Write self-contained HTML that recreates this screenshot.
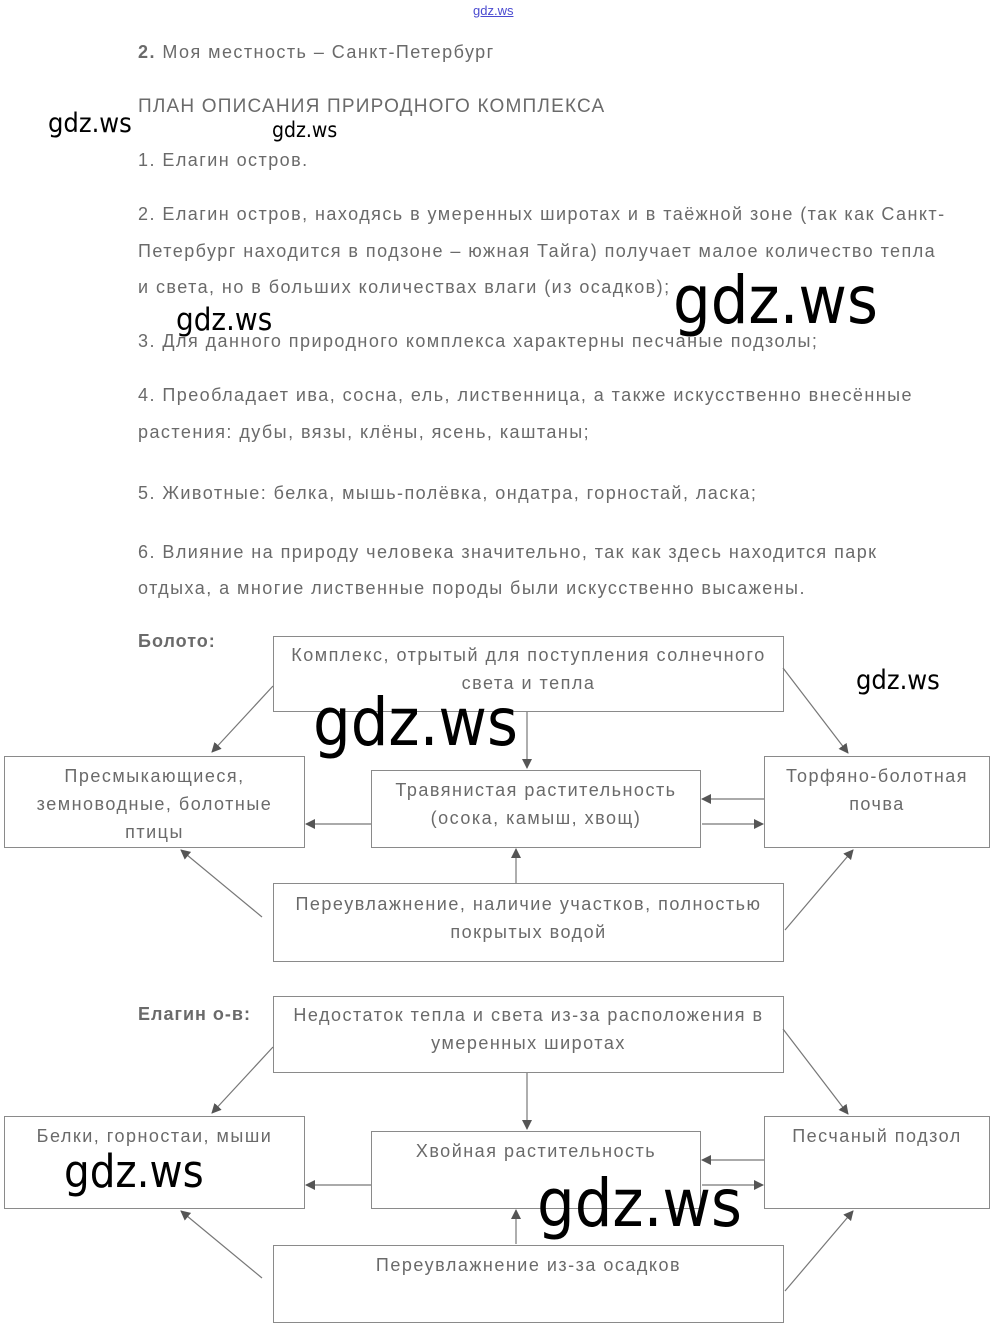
<!DOCTYPE html>
<html><head><meta charset="utf-8">
<style>
body{margin:0;width:1000px;height:1331px;background:#fff;position:relative;overflow:hidden;font-family:"Liberation Sans","DejaVu Sans",sans-serif;}
.t{position:absolute;color:#6a6a6a;font-size:18px;white-space:nowrap;letter-spacing:1.45px}
.b{position:absolute;border:1.5px solid #8a8a8a;box-sizing:border-box;color:#6a6a6a;font-size:18px;text-align:center;line-height:28px;letter-spacing:1.5px;white-space:nowrap}
.w{position:absolute;color:#000;white-space:nowrap;font-family:"DejaVu Sans Condensed","Liberation Sans Narrow","Liberation Sans",sans-serif;}
svg{position:absolute;left:0;top:0}
</style></head><body>
<div class="t" style="left:473px;top:3px;font-size:13px;color:#4a4ad0;text-decoration:underline;letter-spacing:0">gdz.ws</div>
<div class="t" style="left:138px;top:42px"><b>2.</b> Моя местность – Санкт-Петербург</div>
<div class="t" style="left:138px;top:96px;font-size:19px;letter-spacing:1.2px">ПЛАН ОПИСАНИЯ ПРИРОДНОГО КОМПЛЕКСА</div>
<div class="t" style="left:138px;top:150px">1. Елагин остров.</div>
<div class="t" style="left:138px;top:204px">2. Елагин остров, находясь в умеренных широтах и в таёжной зоне (так как Санкт-</div>
<div class="t" style="left:138px;top:241px">Петербург находится в подзоне – южная Тайга) получает малое количество тепла</div>
<div class="t" style="left:138px;top:277px">и света, но в больших количествах влаги (из осадков);</div>
<div class="t" style="left:138px;top:331px">3. Для данного природного комплекса характерны песчаные подзолы;</div>
<div class="t" style="left:138px;top:385px">4. Преобладает ива, сосна, ель, лиственница, а также искусственно внесённые</div>
<div class="t" style="left:138px;top:422px">растения: дубы, вязы, клёны, ясень, каштаны;</div>
<div class="t" style="left:138px;top:483px">5. Животные: белка, мышь-полёвка, ондатра, горностай, ласка;</div>
<div class="t" style="left:138px;top:542px">6. Влияние на природу человека значительно, так как здесь находится парк</div>
<div class="t" style="left:138px;top:578px">отдыха, а многие лиственные породы были искусственно высажены.</div>

<div class="t" style="left:138px;top:631px;font-weight:bold;letter-spacing:1px">Болото:</div>
<div class="b" style="left:273px;top:636px;width:511px;height:76px;padding-top:4px">Комплекс, отрытый для поступления солнечного<br>света и тепла</div>
<div class="b" style="left:4px;top:756px;width:301px;height:92px;padding-top:5px">Пресмыкающиеся,<br>земноводные, болотные<br>птицы</div>
<div class="b" style="left:371px;top:770px;width:330px;height:78px;padding-top:5px">Травянистая растительность<br>(осока, камыш, хвощ)</div>
<div class="b" style="left:764px;top:756px;width:226px;height:92px;padding-top:5px">Торфяно-болотная<br>почва</div>
<div class="b" style="left:273px;top:883px;width:511px;height:79px;padding-top:6px">Переувлажнение, наличие участков, полностью<br>покрытых водой</div>

<div class="t" style="left:138px;top:1004px;font-weight:bold;letter-spacing:1px">Елагин о-в:</div>
<div class="b" style="left:273px;top:996px;width:511px;height:77px;padding-top:4px">Недостаток тепла и света из-за расположения в<br>умеренных широтах</div>
<div class="b" style="left:4px;top:1116px;width:301px;height:93px;padding-top:5px">Белки, горностаи, мыши</div>
<div class="b" style="left:371px;top:1131px;width:330px;height:78px;padding-top:5px">Хвойная растительность</div>
<div class="b" style="left:764px;top:1116px;width:226px;height:93px;padding-top:5px">Песчаный подзол</div>
<div class="b" style="left:273px;top:1245px;width:511px;height:78px;padding-top:5px">Переувлажнение из-за осадков</div>

<svg width="1000" height="1331">
<defs><marker id="a" markerWidth="10" markerHeight="10" refX="9" refY="5" orient="auto" markerUnits="userSpaceOnUse"><path d="M0,0 L10,5 L0,10 z" fill="#555"/></marker></defs>
<g stroke="#777" stroke-width="1.2" fill="none" marker-end="url(#a)">
<g>
<line x1="273" y1="686" x2="212" y2="752"/>
<line x1="527" y1="712" x2="527" y2="768"/>
<line x1="783" y1="668" x2="848" y2="753"/>
<line x1="371" y1="824" x2="306" y2="824"/>
<line x1="764" y1="799" x2="702" y2="799"/>
<line x1="702" y1="824" x2="763" y2="824"/>
<line x1="516" y1="883" x2="516" y2="849"/>
<line x1="262" y1="917" x2="181" y2="850"/>
<line x1="785" y1="930" x2="853" y2="850"/>
</g>
<g transform="translate(0,361)">
<line x1="273" y1="686" x2="212" y2="752"/>
<line x1="527" y1="712" x2="527" y2="768"/>
<line x1="783" y1="668" x2="848" y2="753"/>
<line x1="371" y1="824" x2="306" y2="824"/>
<line x1="764" y1="799" x2="702" y2="799"/>
<line x1="702" y1="824" x2="763" y2="824"/>
<line x1="516" y1="883" x2="516" y2="849"/>
<line x1="262" y1="917" x2="181" y2="850"/>
<line x1="785" y1="930" x2="853" y2="850"/>
</g>
</g>
</svg>

<div class="w" style="left:48px;top:108px;font-size:27px">gdz.ws</div>
<div class="w" style="left:272px;top:118px;font-size:21px">gdz.ws</div>
<div class="w" style="left:673px;top:262px;font-size:66px">gdz.ws</div>
<div class="w" style="left:176px;top:302px;font-size:31px">gdz.ws</div>
<div class="w" style="left:313px;top:684px;font-size:66px">gdz.ws</div>
<div class="w" style="left:856px;top:665px;font-size:27px">gdz.ws</div>
<div class="w" style="left:64px;top:1145px;font-size:45px">gdz.ws</div>
<div class="w" style="left:537px;top:1165px;font-size:66px">gdz.ws</div>
</body></html>
